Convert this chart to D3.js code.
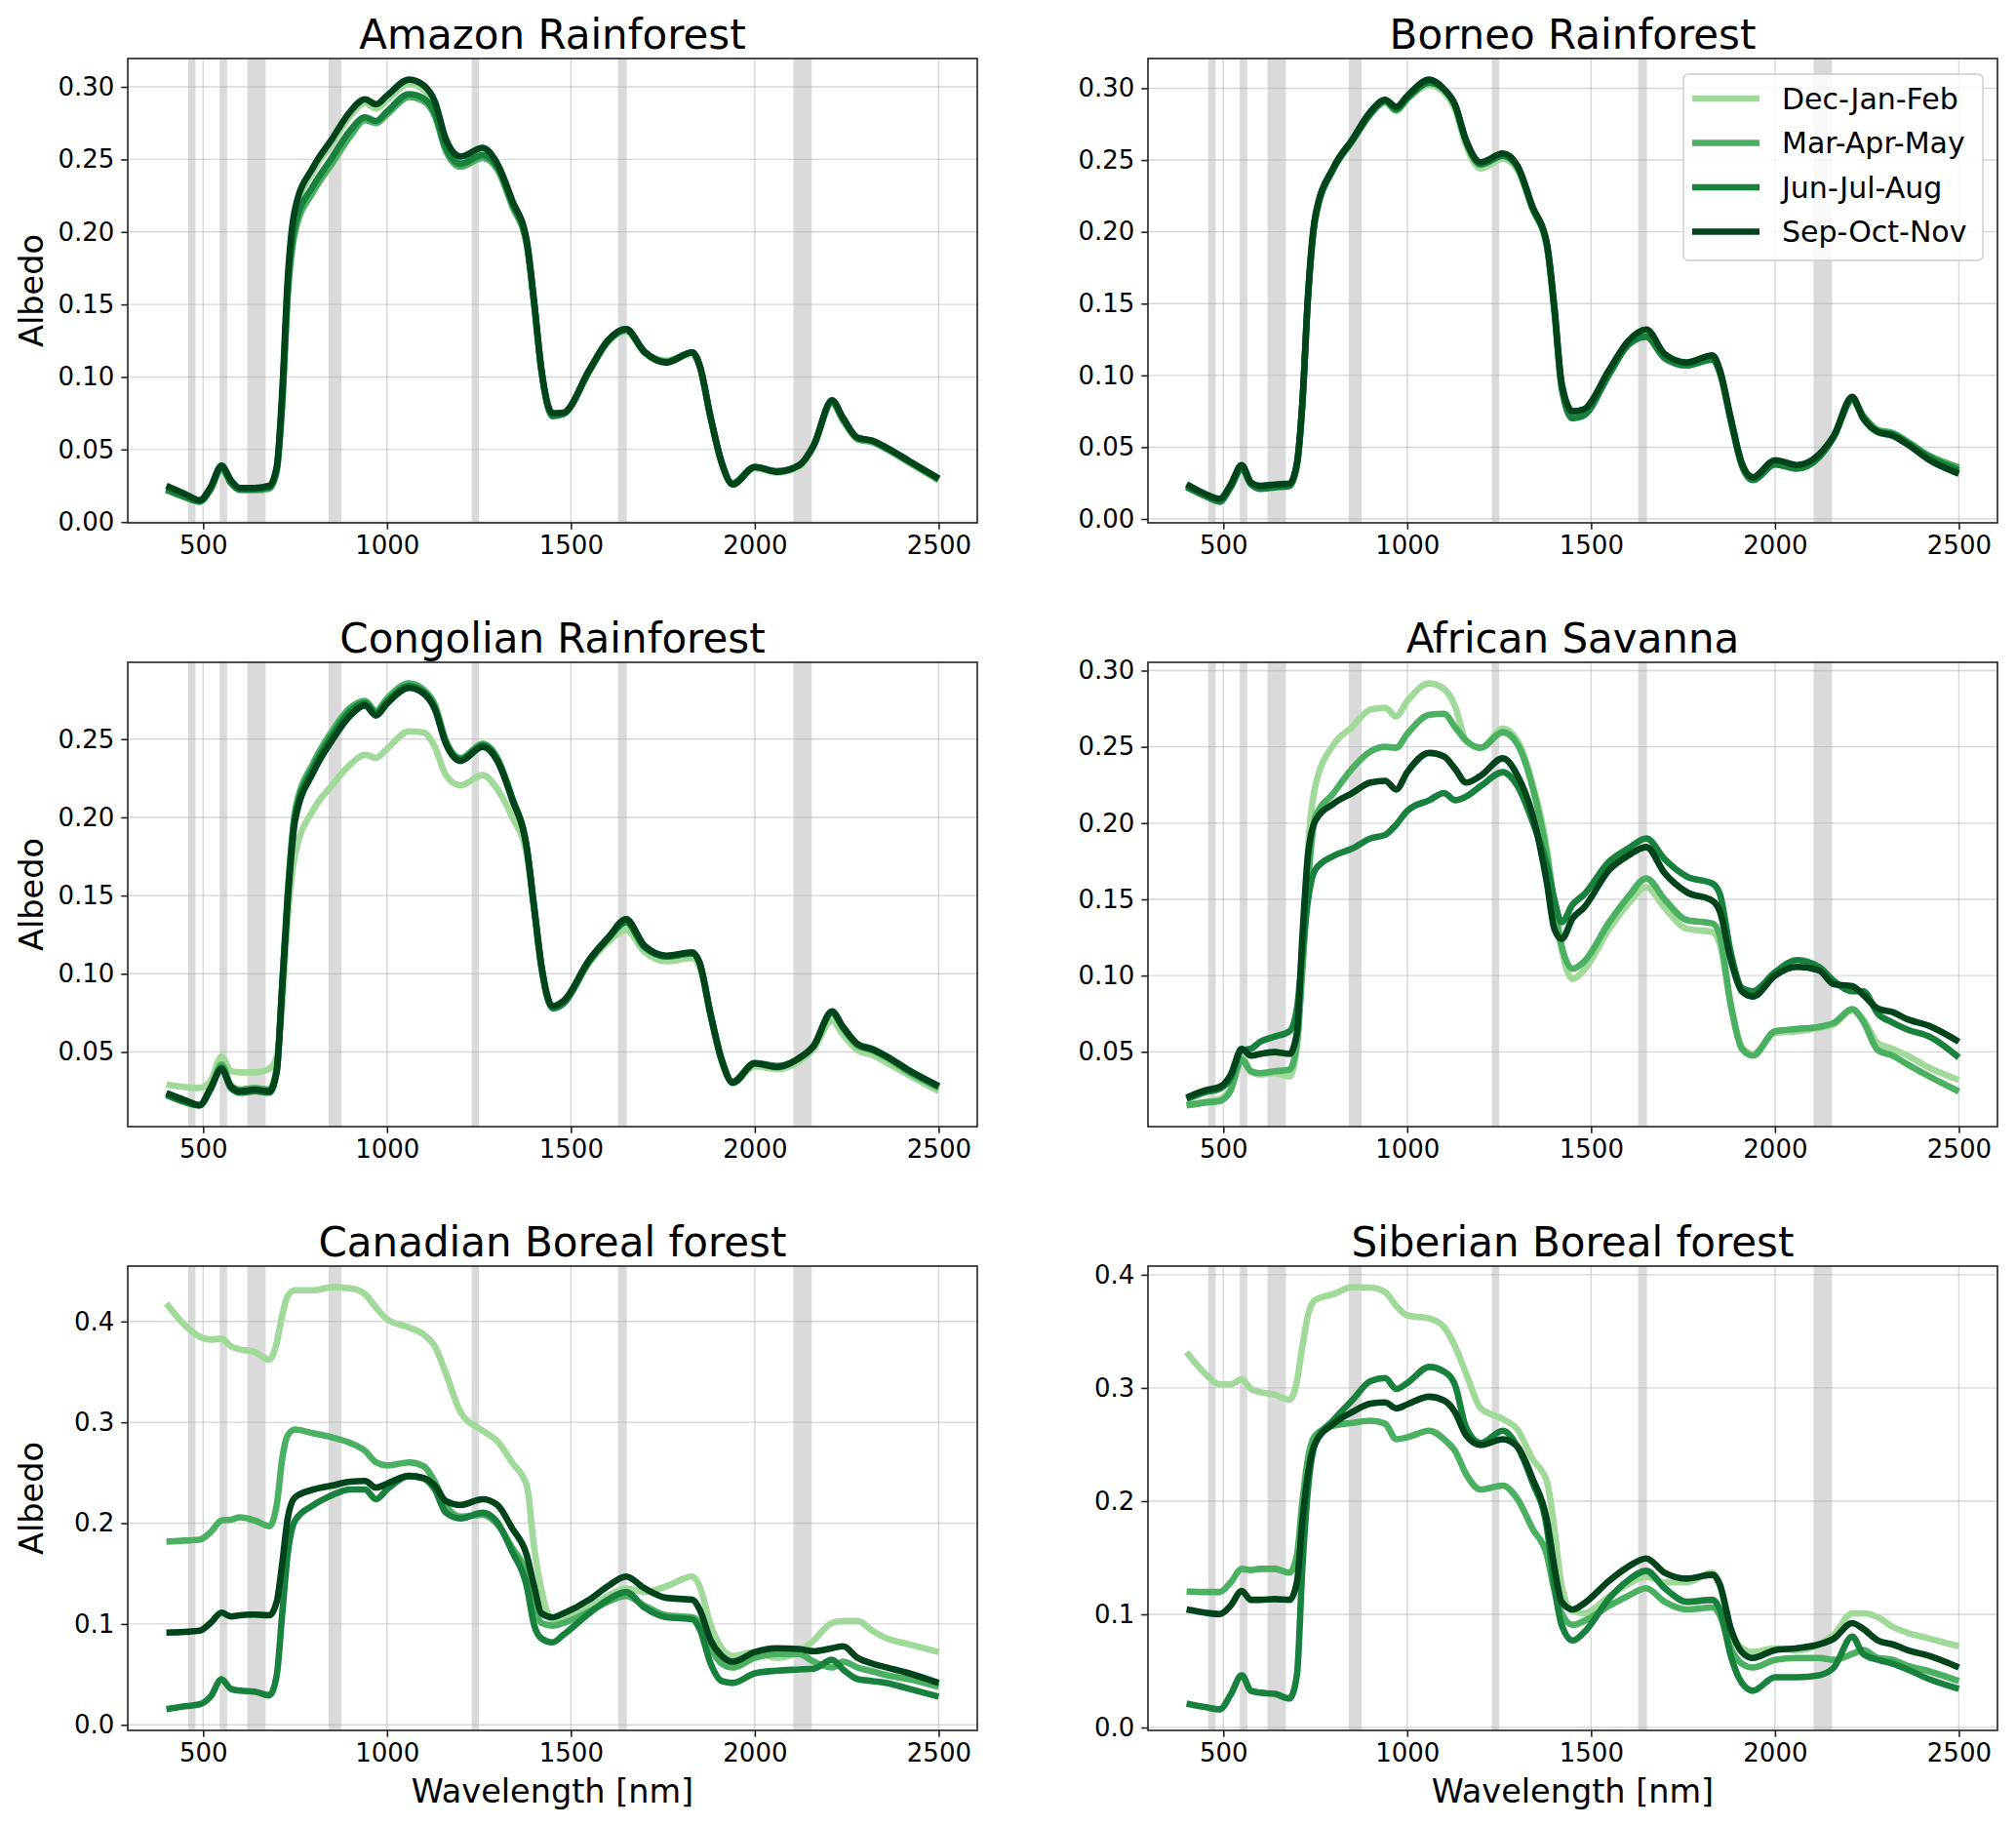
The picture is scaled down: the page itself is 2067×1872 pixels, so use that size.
<!DOCTYPE html>
<html>
<head>
<meta charset="utf-8">
<script src="https://cdn.jsdelivr.net/npm/d3@7"></script>
<style>
  body { margin: 0; background: #fff; }
  text { font-family: "DejaVu Sans", sans-serif; }
</style>
</head>
<body>
<div id="chart"></div>
<script>
var wavelengths = [400, 450, 490, 520, 550, 575, 600, 640, 680, 700,
  715, 730, 750, 800, 850, 900, 940, 970, 1000, 1060,
  1100, 1130, 1160, 1200, 1260, 1300, 1340, 1380, 1400, 1420,
  1450, 1480, 1550, 1600, 1650, 1700, 1760, 1830, 1850, 1880,
  1910, 1940, 2000, 2060, 2120, 2160, 2210, 2240, 2280, 2320,
  2360, 2420, 2500];

var seasons = ["Dec-Jan-Feb", "Mar-Apr-May", "Jun-Jul-Aug", "Sep-Oct-Nov"];
var seasonColors = ["#a1d99b", "#4bb062", "#17813d", "#00441b"];
var regions = ["Amazon Rainforest", "Borneo Rainforest", "Congolian Rainforest",
  "African Savanna", "Canadian Boreal forest", "Siberian Boreal forest"];

// MODIS band ranges shaded in grey [nm]
var modisBands = [[459, 479], [545, 565], [620, 670], [841, 876], [1230, 1250], [1628, 1652], [2105, 2155]];
var xTicks = [500, 1000, 1500, 2000, 2500];
var yTickSteps = [0.05, 0.05, 0.05, 0.05, 0.1, 0.1];

// albedo per season (DJF, MAM, JJA, SON)
var amazon = [
  [.023,.018,.0145,.023,.038,.028,.023,.023,.024,.037,.086,.163,.212,.242,.261,.280,.289,.285,.291,.302,.298,.287,.261,.249,.256,.246,.220,.193,.151,.104,.074,.075,.104,.124,.132,.117,.110,.116,.107,.071,.040,.026,.037,.034,.038,.052,.083,.071,.057,.055,.050,.041,.029],
  [.022,.017,.014,.022,.037,.027,.022,.022,.023,.035,.080,.155,.200,.228,.247,.266,.277,.275,.281,.293,.290,.280,.256,.245,.251,.243,.218,.191,.150,.104,.074,.075,.104,.124,.132,.117,.111,.117,.108,.072,.041,.027,.038,.035,.039,.053,.082,.070,.057,.055,.050,.041,.029],
  [.0225,.0175,.0143,.023,.038,.0275,.0225,.0225,.024,.036,.084,.160,.205,.232,.251,.270,.279,.2765,.283,.295,.292,.282,.258,.247,.253,.245,.220,.192,.151,.104,.073,.0745,.104,.125,.133,.117,.110,.117,.108,.072,.041,.026,.038,.035,.039,.053,.083,.071,.058,.056,.051,.042,.030],
  [.025,.0195,.015,.024,.039,.029,.0235,.0235,.025,.038,.090,.168,.216,.245,.264,.283,.2915,.288,.294,.305,.301,.290,.264,.252,.258,.247,.222,.194,.152,.105,.075,.0755,.105,.125,.133,.1175,.110,.117,.108,.072,.041,.026,.038,.0346,.039,.0526,.084,.072,.058,.056,.051,.042,.030]
];
var borneo = [
  [.023,.017,.0135,.023,.036,.025,.022,.023,.024,.038,.080,.153,.209,.244,.263,.282,.290,.284,.292,.302,.297,.285,.260,.244,.251,.243,.216,.189,.147,.094,.075,.076,.103,.122,.129,.113,.108,.112,.103,.070,.039,.029,.040,.037,.044,.057,.083,.070,.060,.058,.052,.042,.033],
  [.023,.0168,.013,.023,.036,.025,.022,.023,.024,.038,.081,.154,.210,.245,.264,.283,.291,.286,.293,.304,.299,.288,.263,.247,.254,.245,.217,.191,.147,.093,.072,.074,.102,.121,.127,.112,.107,.112,.102,.069,.038,.028,.039,.037,.045,.058,.083,.072,.062,.060,.054,.044,.036],
  [.022,.016,.012,.022,.035,.024,.021,.022,.023,.037,.080,.153,.209,.244,.263,.282,.291,.285,.293,.304,.299,.288,.263,.247,.253,.245,.217,.190,.145,.091,.070,.072,.101,.121,.127,.112,.107,.111,.102,.068,.037,.027,.038,.035,.043,.057,.083,.071,.061,.059,.053,.043,.034],
  [.0242,.0175,.014,.024,.0376,.0255,.023,.024,.0247,.039,.082,.155,.211,.245,.264,.2837,.292,.287,.2946,.306,.2995,.2886,.264,.2485,.2546,.246,.218,.1916,.148,.0946,.075,.0764,.1043,.1237,.132,.115,.109,.114,.104,.070,.0388,.029,.041,.0376,.045,.058,.085,.070,.0606,.058,.052,.041,.0315]
];
var congo = [
  [.0293,.0276,.027,.0315,.047,.038,.037,.037,.0393,.047,.080,.136,.176,.205,.2204,.2338,.240,.238,.2438,.255,.2542,.245,.227,.2204,.227,.218,.2004,.176,.140,.103,.079,.082,.107,.120,.128,.114,.108,.110,.104,.072,.044,.030,.041,.039,.044,.052,.070,.061,.051,.048,.043,.035,.025],
  [.023,.0185,.0162,.026,.042,.029,.026,.027,.026,.040,.094,.152,.204,.235,.255,.270,.2745,.268,.276,.2856,.2815,.272,.249,.238,.247,.238,.213,.181,.143,.105,.079,.082,.109,.123,.133,.117,.111,.113,.107,.074,.045,.031,.043,.041,.046,.054,.075,.065,.054,.051,.046,.037,.027],
  [.0225,.018,.0158,.026,.040,.027,.024,.025,.024,.037,.092,.150,.201,.232,.252,.268,.273,.2665,.274,.284,.280,.270,.248,.237,.246,.237,.212,.180,.142,.104,.078,.081,.108,.122,.133,.117,.111,.113,.107,.074,.045,.031,.043,.041,.046,.054,.075,.066,.055,.052,.047,.038,.028],
  [.0238,.0193,.016,.027,.039,.028,.0249,.026,.0249,.038,.0915,.147,.198,.229,.249,.265,.2716,.265,.2727,.2827,.279,.269,.247,.236,.245,.236,.2116,.1804,.1427,.105,.0793,.0827,.109,.1227,.1349,.118,.1116,.1138,.107,.0738,.0449,.0304,.0427,.0404,.046,.0538,.076,.066,.0549,.0516,.047,.0382,.0282]
];
var savanna = [
  [.0155,.0172,.019,.0258,.0464,.0372,.035,.036,.0338,.053,.115,.183,.224,.2516,.263,.2745,.2756,.270,.280,.2916,.288,.2767,.254,.2494,.262,.254,.2266,.183,.1467,.117,.0977,.1034,.1307,.1467,.158,.1444,.1307,.1285,.1205,.0806,.0532,.0486,.0623,.0635,.0657,.068,.0771,.0714,.0555,.052,.0475,.0395,.0315],
  [.0148,.0167,.0178,.0247,.045,.0372,.036,.0372,.0384,.0555,.1034,.160,.2037,.2197,.2357,.247,.250,.2494,.2585,.271,.2717,.263,.254,.2494,.2596,.2516,.2243,.1787,.1467,.1193,.1045,.109,.1353,.1513,.1638,.150,.1364,.1342,.1262,.0806,.052,.0475,.0635,.065,.0664,.069,.078,.070,.051,.0475,.0418,.0338,.024],
  [.019,.0235,.0258,.0327,.051,.052,.0566,.060,.0635,.078,.115,.149,.1695,.1786,.1832,.190,.1923,.199,.208,.215,.2197,.215,.2174,.2243,.2334,.2243,.2015,.172,.150,.135,.1467,.153,.175,.1832,.190,.1763,.165,.1604,.1536,.1148,.092,.0897,.1022,.1102,.1057,.0965,.0897,.0897,.0749,.0692,.0646,.060,.0463],
  [.020,.0247,.027,.035,.052,.0475,.0486,.0498,.0486,.0623,.126,.1786,.2015,.2128,.2197,.2266,.2277,.222,.2334,.246,.2437,.2357,.2266,.2311,.2425,.2311,.206,.1604,.1307,.124,.1376,.1444,.1695,.1786,.1843,.1672,.1547,.149,.1422,.1102,.0897,.0863,.100,.1057,.1034,.0943,.0931,.0874,.0783,.076,.0714,.0669,.0566]
];
var canada = [
  [.418,.3965,.385,.382,.383,.3754,.3724,.370,.362,.379,.406,.4253,.431,.431,.434,.433,.4273,.4138,.4023,.394,.387,.3754,.3486,.310,.2917,.2814,.2603,.2372,.1758,.1336,.1029,.1048,.1163,.1278,.1355,.1317,.1374,.147,.1374,.099,.076,.0683,.0722,.0664,.0722,.0837,.101,.1029,.1029,.0933,.0856,.0798,.0722],
  [.1816,.1827,.1835,.191,.2027,.2035,.2058,.2027,.197,.218,.264,.2871,.2929,.289,.2852,.2795,.2718,.2603,.2572,.2603,.2564,.241,.218,.2065,.2084,.1988,.1758,.149,.1182,.101,.0983,.101,.1125,.122,.1278,.1182,.1086,.1067,.101,.076,.0607,.0568,.0664,.0702,.0702,.0626,.0568,.0626,.0568,.053,.0491,.0453,.0376],
  [.0154,.0184,.0203,.028,.0453,.0357,.0338,.033,.0292,.0491,.110,.170,.2027,.218,.2276,.2334,.2334,.2238,.2334,.2468,.2441,.2334,.2104,.2046,.2104,.2008,.172,.1374,.099,.0856,.0818,.0894,.1106,.124,.1317,.1163,.1067,.1048,.0952,.0607,.0434,.0415,.0511,.0537,.0549,.0557,.0645,.0549,.0453,.0434,.0415,.0357,.028],
  [.0914,.0921,.0933,.101,.1113,.1075,.1086,.1094,.1086,.122,.160,.205,.2257,.2334,.2372,.2411,.2418,.2353,.2392,.2468,.2449,.2372,.2219,.218,.2238,.218,.195,.1681,.1374,.1106,.1067,.1106,.124,.1374,.147,.1355,.1259,.124,.1144,.0837,.0683,.0626,.0722,.076,.0752,.073,.076,.0779,.0664,.0607,.0568,.0511,.0415]
];
var siberia = [
  [.3316,.3128,.3032,.3032,.3077,.2991,.2964,.294,.2896,.306,.3368,.3641,.3778,.3829,.389,.3887,.3846,.3726,.3641,.3614,.3538,.3368,.3128,.282,.2725,.2632,.2376,.2171,.1761,.1248,.1026,.1009,.1162,.1265,.1333,.1282,.1282,.1368,.1248,.0872,.0701,.0667,.0701,.0684,.0735,.0821,.1009,.1009,.0974,.0889,.0838,.0786,.0718],
  [.1203,.1197,.1197,.1282,.1402,.1391,.1402,.1402,.1368,.1521,.200,.2376,.2581,.2667,.2691,.2711,.2684,.2547,.2564,.2622,.2547,.2444,.2239,.2103,.2137,.2017,.1761,.1521,.1214,.1009,.0906,.094,.1077,.1162,.1231,.1111,.1043,.106,.0991,.0701,.0564,.053,.0598,.0615,.0615,.0598,.065,.0684,.0615,.0598,.0547,.0496,.041],
  [.0212,.0181,.0161,.0291,.0462,.0325,.0308,.0297,.0256,.0462,.1419,.2103,.2513,.2718,.2889,.306,.3087,.2991,.3043,.3186,.3145,.3026,.265,.2513,.2622,.2479,.2171,.1761,.1248,.0906,.0769,.0838,.1145,.1299,.1385,.1231,.1111,.1128,.1043,.0632,.0393,.0325,.0444,.0444,.0462,.053,.0803,.065,.0598,.0564,.0513,.0427,.0342],
  [.1043,.1015,.1002,.1077,.1207,.1128,.1128,.1135,.1128,.1282,.1829,.2239,.2513,.2684,.2786,.2861,.2872,.282,.2855,.2923,.2889,.2786,.2581,.2496,.2547,.2479,.2205,.1829,.1419,.1111,.1043,.1094,.1299,.1419,.1494,.1368,.1316,.135,.1265,.0872,.0667,.0615,.0684,.0701,.0735,.0786,.0923,.0872,.0769,.0735,.0684,.0632,.053]
];
var regionData = [amazon, borneo, congo, savanna, canada, siberia];

// layout
var colLeft = [131, 1177], rowTop = [60, 679, 1298];
var panelW = 871, panelH = 476;
var tickLen = 6.7, tickPad = 7;

var svg = d3.select("#chart").append("svg")
  .attr("width", 2067)
  .attr("height", 1872)
  .style("background", "#fff");

// matplotlib-like 5% margin on both axes
function padded(lo, hi) {
  var m = (hi - lo) * 0.05;
  return [lo - m, hi + m];
}

var x = d3.scaleLinear()
  .domain(padded(d3.min(wavelengths), d3.max(wavelengths)))
  .range([0, panelW]);

regions.forEach(function (name, i) {
  var series = regionData[i];
  var row = Math.floor(i / 2), col = i % 2;
  var g = svg.append("g")
    .attr("transform", "translate(" + colLeft[col] + "," + rowTop[row] + ")");

  var yMin = d3.min(series, function (s) { return d3.min(s); });
  var yMax = d3.max(series, function (s) { return d3.max(s); });
  var y = d3.scaleLinear().domain(padded(yMin, yMax)).range([panelH, 0]);

  var step = yTickSteps[i];
  var k0 = Math.ceil(y.domain()[0] / step - 1e-9);
  var k1 = Math.floor(y.domain()[1] / step + 1e-9);
  var yTicks = d3.range(k0, k1 + 1).map(function (k) { return +(k * step).toFixed(2); });
  var fmt = d3.format(step < 0.1 ? ".2f" : ".1f");

  // grey band spans
  g.selectAll(".band")
    .data(modisBands)
    .enter()
    .append("rect")
    .attr("class", "band")
    .attr("x", function (d) { return x(d[0]); })
    .attr("width", function (d) { return x(d[1]) - x(d[0]); })
    .attr("y", 0)
    .attr("height", panelH)
    .style("fill", "#d3d3d3")
    .style("opacity", 0.85);

  // grid
  g.selectAll(".gx")
    .data(xTicks)
    .enter()
    .append("line")
    .attr("x1", function (d) { return x(d); })
    .attr("x2", function (d) { return x(d); })
    .attr("y1", 0)
    .attr("y2", panelH)
    .style("stroke", "#b0b0b0")
    .style("stroke-opacity", 0.5)
    .style("stroke-width", 1.4);

  g.selectAll(".gy")
    .data(yTicks)
    .enter()
    .append("line")
    .attr("x1", 0)
    .attr("x2", panelW)
    .attr("y1", function (d) { return y(d); })
    .attr("y2", function (d) { return y(d); })
    .style("stroke", "#b0b0b0")
    .style("stroke-opacity", 0.5)
    .style("stroke-width", 1.4);

  // spectra
  var line = d3.line()
    .x(function (d) { return x(d[0]); })
    .y(function (d) { return y(d[1]); })
    .curve(d3.curveMonotoneX);

  g.selectAll(".spec")
    .data(series)
    .enter()
    .append("path")
    .attr("class", "spec")
    .attr("d", function (s) { return line(d3.zip(wavelengths, s)); })
    .style("fill", "none")
    .style("stroke", function (s, j) { return seasonColors[j]; })
    .style("stroke-width", 6.6)
    .style("stroke-linejoin", "round");

  // axes
  var xAxis = g.append("g")
    .attr("transform", "translate(0," + panelH + ")")
    .call(d3.axisBottom(x).tickValues(xTicks).tickFormat(d3.format("d"))
      .tickSize(tickLen).tickPadding(tickPad));
  var yAxis = g.append("g")
    .call(d3.axisLeft(y).tickValues(yTicks).tickFormat(fmt).tickSize(tickLen).tickPadding(tickPad));

  [xAxis, yAxis].forEach(function (ax) {
    ax.select(".domain").remove();
    ax.selectAll(".tick line").style("stroke", "#222").style("stroke-width", 1.6);
    ax.selectAll(".tick text")
      .style("font-size", "26px")
      .style("fill", "#000")
      .style("font-family", "'DejaVu Sans', sans-serif");
  });

  // frame
  g.append("rect")
    .attr("width", panelW)
    .attr("height", panelH)
    .style("fill", "none")
    .style("stroke", "#222")
    .style("stroke-width", 1.6);

  g.append("text")
    .attr("x", panelW / 2)
    .attr("y", -10)
    .attr("text-anchor", "middle")
    .style("font-size", "42px")
    .text(name);

  if (col === 0) {
    g.append("text")
      .attr("transform", "translate(-87," + panelH / 2 + ") rotate(-90)")
      .attr("text-anchor", "middle")
      .style("font-size", "33.5px")
      .text("Albedo");
  }

  if (row === 2) {
    g.append("text")
      .attr("x", panelW / 2)
      .attr("y", panelH + 74)
      .attr("text-anchor", "middle")
      .style("font-size", "33.5px")
      .text("Wavelength [nm]");
  }

  if (i === 1) {
    var legend = g.append("g")
      .attr("class", "legend")
      .attr("transform", "translate(" + (panelW - 322) + ",16)");

    legend.append("rect")
      .attr("width", 307)
      .attr("height", 191)
      .attr("rx", 5)
      .style("fill", "#fff")
      .style("fill-opacity", 0.8)
      .style("stroke", "#cccccc")
      .style("stroke-width", 1.4);

    var item = legend.selectAll(".item")
      .data(seasons)
      .enter()
      .append("g")
      .attr("transform", function (d, j) { return "translate(0," + (25 + j * 45.5) + ")"; });

    item.append("line")
      .attr("x1", 9)
      .attr("x2", 78)
      .style("stroke", function (d, j) { return seasonColors[j]; })
      .style("stroke-width", 6.6);

    item.append("text")
      .attr("x", 101)
      .attr("y", 10.5)
      .style("font-size", "30px")
      .text(function (d) { return d; });
  }
});
</script>
</body>
</html>
